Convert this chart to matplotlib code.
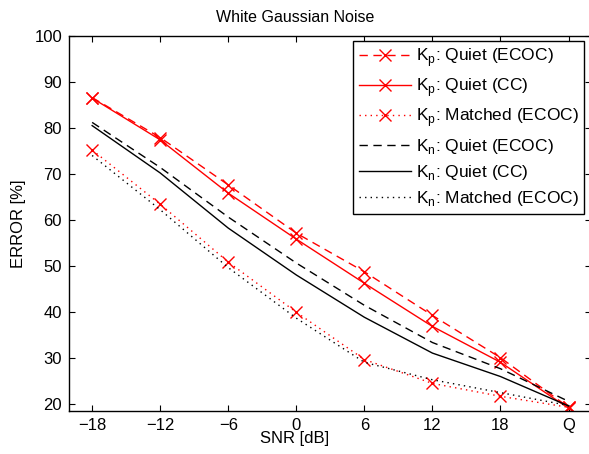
import matplotlib
matplotlib.use("Agg")
import matplotlib.pyplot as plt
import numpy as np

plt.rcParams["font.family"] = ["Liberation Sans", "DejaVu Sans"]
plt.rcParams["mathtext.fontset"] = "custom"
plt.rcParams["mathtext.rm"] = "Liberation Sans"

snr_labels = ["\u221218", "\u221212", "\u22126", "0", "6", "12", "18", "Q"]

kp_quiet_ecoc = [86.6, 77.9, 67.6, 57.1, 48.7, 39.2, 30.0, 19.2]
kp_quiet_cc = [86.5, 77.4, 65.8, 55.8, 46.2, 36.8, 29.0, 19.0]
kp_matched_ecoc = [75.2, 63.4, 50.8, 39.9, 29.6, 24.4, 21.6, 19.2]
kn_quiet_ecoc = [81.2, 71.4, 60.6, 50.6, 41.4, 33.3, 27.6, 20.5]
kn_quiet_cc = [80.5, 70.2, 58.2, 48.0, 38.8, 31.0, 25.9, 19.5]
kn_matched_ecoc = [74.0, 62.2, 49.6, 38.6, 29.0, 25.2, 22.4, 19.6]

x = np.arange(len(snr_labels))

fig = plt.figure(figsize=(5.89, 4.54), dpi=100)
ax = fig.add_axes([69 / 589, 1 - 411 / 454, (591 - 69) / 589, (411 - 36) / 454])

red = "#ff0000"
ax.plot(x, kp_quiet_ecoc, color=red, ls=(0, (6, 4)), lw=1.0, marker="x", ms=9, mew=1.0,
        label=r"K$_\mathrm{p}$: Quiet (ECOC)")
ax.plot(x, kp_quiet_cc, color=red, ls="-", lw=1.0, marker="x", ms=9, mew=1.0,
        label=r"K$_\mathrm{p}$: Quiet (CC)")
ax.plot(x, kp_matched_ecoc, color=red, ls=(0, (1, 3)), lw=1.0, marker="x", ms=9, mew=1.0,
        label=r"K$_\mathrm{p}$: Matched (ECOC)")
ax.plot(x, kn_quiet_ecoc, color="black", ls=(0, (6, 4)), lw=1.0,
        label=r"K$_\mathrm{n}$: Quiet (ECOC)")
ax.plot(x, kn_quiet_cc, color="black", ls="-", lw=1.0,
        label=r"K$_\mathrm{n}$: Quiet (CC)")
ax.plot(x, kn_matched_ecoc, color="black", ls=(0, (1, 3)), lw=1.0,
        label=r"K$_\mathrm{n}$: Matched (ECOC)")

ax.set_xlim(-0.34, 7.33)
ax.set_ylim(18.4, 100)
ax.set_xticks(x)
ax.set_xticklabels(snr_labels)
ax.set_yticks(np.arange(20, 101, 10))
ax.tick_params(direction="in", top=True, right=True, length=4, width=0.8,
               labelsize=12, pad=5)
for s in ax.spines.values():
    s.set_linewidth(1.0)

fig.text(295 / 589, 1 - 18 / 454, "White Gaussian Noise", ha="center", va="center", fontsize=11.5)
fig.text(295 / 589, 1 - 439 / 454, "SNR [dB]", ha="center", va="center", fontsize=12)
ax.set_ylabel("ERROR [%]", fontsize=12, labelpad=6)

leg = ax.legend(loc="upper right", bbox_to_anchor=(584 / 589, 1 - 41 / 454),
                bbox_transform=fig.transFigure, fontsize=12.5, frameon=True, fancybox=False,
                edgecolor="black", framealpha=1, handlelength=3.0, handletextpad=0.3,
                labelspacing=0.42, borderpad=0.3, borderaxespad=0)
leg.get_frame().set_linewidth(1.0)

fig.savefig("out.png", dpi=100)
